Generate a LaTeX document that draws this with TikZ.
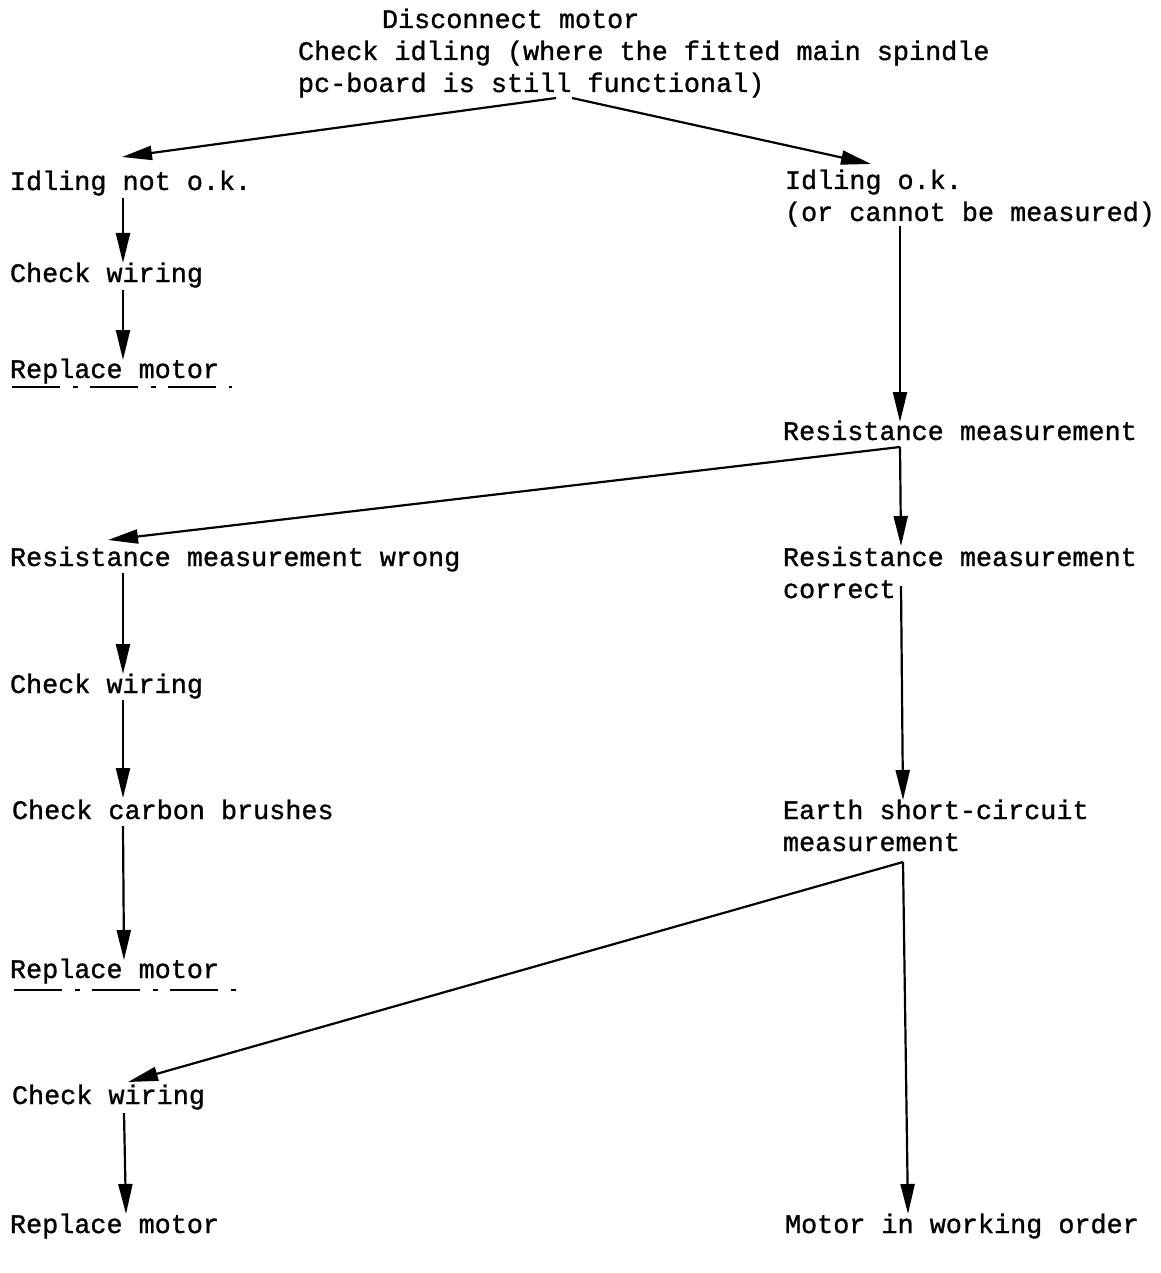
\documentclass[tikz,border=0pt]{standalone}
\usepackage{fontspec}
\setmainfont{Liberation Mono}
\newfontfamily\typewriter{Liberation Mono}[FakeBold=1.1]
\usetikzlibrary{arrows.meta}
\begin{document}
\begin{tikzpicture}[x=1pt,y=-1pt,
  txt/.style={anchor=base west,inner sep=0pt,outer sep=0pt,align=left,
    font=\typewriter\fontsize{26.8}{32}\selectfont},
  flow/.style={line width=2.2pt,-{Triangle[length=30pt,width=14pt]}},
  uline/.style={line width=2.4pt,dash pattern=on 48pt off 13pt on 5pt off 12pt}]
\useasboundingbox (0,0) rectangle (1160,1273);

% texts (multi-line nodes are placed at the baseline of their last line)
\node[txt] (t0) at (382,28) {Disconnect motor};
\node[txt] (t1) at (298,92) {Check idling (where the fitted main spindle\\pc-board is still functional)};
\node[txt] (l1) at (10,190) {Idling not o.k.};
\node[txt] (r1) at (785,221) {Idling o.k.\\(or cannot be measured)};
\node[txt] (l2) at (10,282) {Check wiring};
\node[txt] (l3) at (10,378) {Replace motor};
\node[txt] (r2) at (783,440) {Resistance measurement};
\node[txt] (l4) at (10,566) {Resistance measurement wrong};
\node[txt] (r3) at (783,598) {Resistance measurement\\correct};
\node[txt] (l5) at (10,693) {Check wiring};
\node[txt] (l6) at (12,819) {Check carbon brushes};
\node[txt] (r4) at (783,851) {Earth short-circuit\\measurement};
\node[txt] (l7) at (10,978) {Replace motor};
\node[txt] (l8) at (12,1104) {Check wiring};
\node[txt] (l9) at (10,1233) {Replace motor};
\node[txt] (r5) at (785,1233) {Motor in working order};

% connector ends
\coordinate (s0a) at (556,98);
\coordinate (s0b) at (572,98);
\coordinate (e1) at (122,157);
\coordinate (e2) at (871,164);
\coordinate (s1) at (123,198);
\coordinate (e3) at (123,263);
\coordinate (s2) at (123,290);
\coordinate (e4) at (123,360);
\coordinate (s3) at (900,226);
\coordinate (e5) at (900,422);
\coordinate (b1) at (900,447);
\coordinate (e6) at (108,540);
\coordinate (e7) at (901,546);
\coordinate (s4) at (123,573);
\coordinate (e8) at (123,674);
\coordinate (s5) at (123,700);
\coordinate (e9) at (123,798);
\coordinate (s6) at (123,826);
\coordinate (e10) at (124,960);
\coordinate (s7) at (901,586);
\coordinate (e11) at (903,800);
\coordinate (b2) at (903,862);
\coordinate (e12) at (128,1082);
\coordinate (e13) at (908,1214);
\coordinate (s8) at (124,1113);
\coordinate (e14) at (126,1214);

% connectors
\draw[flow] (s0a) -- (e1);
\draw[flow] (s0b) -- (e2);
\draw[flow] (s1) -- (e3);
\draw[flow] (s2) -- (e4);
\draw[flow] (s3) -- (e5);
\draw[flow] (b1) -- (e6);
\draw[flow] (b1) -- (e7);
\draw[flow] (s4) -- (e8);
\draw[flow] (s5) -- (e9);
\draw[flow] (s6) -- (e10);
\draw[flow] (s7) -- (e11);
\draw[flow] (b2) -- (e12);
\draw[flow] (b2) -- (e13);
\draw[flow] (s8) -- (e14);

% dash-dot underlines
\draw[uline] (12,387) -- (232,387);
\draw[uline] (14,990) -- (240,990);
\end{tikzpicture}
\end{document}
